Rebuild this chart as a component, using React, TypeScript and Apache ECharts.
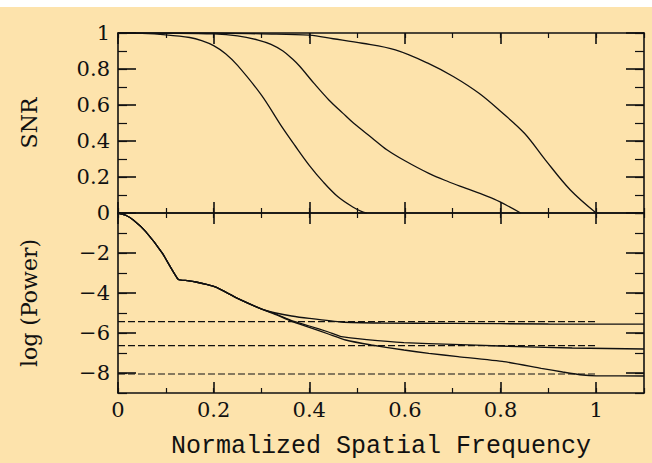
import React, { useEffect, useRef } from 'react';
import * as echarts from 'echarts';

// ---- Data ----
const X_TICKS_MAJOR = [0, 0.2, 0.4, 0.6, 0.8, 1];
const SNR_TICKS_MAJOR = [0, 0.2, 0.4, 0.6, 0.8, 1];
const POWER_TICKS_MAJOR = [-8, -6, -4, -2];

// SNR curves (top panel)
const snrAFreq = [0, 0.05, 0.1, 0.15, 0.175, 0.2, 0.225, 0.25, 0.3, 0.34, 0.37, 0.4, 0.43, 0.46, 0.49, 0.51, 0.52];
const snrAVal = [1, 0.998, 0.99, 0.975, 0.958, 0.93, 0.885, 0.82, 0.655, 0.49, 0.375, 0.265, 0.17, 0.09, 0.035, 0.008, 0];

const snrBFreq = [0, 0.1, 0.2, 0.25, 0.293, 0.32, 0.345, 0.365, 0.38, 0.41, 0.441, 0.47, 0.493, 0.53, 0.563, 0.6, 0.65, 0.69, 0.728, 0.77, 0.798, 0.842];
const snrBVal = [1, 0.999, 0.995, 0.984, 0.961, 0.937, 0.9, 0.855, 0.815, 0.72, 0.628, 0.555, 0.498, 0.42, 0.35, 0.29, 0.22, 0.175, 0.137, 0.095, 0.063, 0];

const snrCFreq = [0, 0.2, 0.3, 0.4, 0.45, 0.511, 0.58, 0.65, 0.702, 0.755, 0.8, 0.85, 0.894, 0.946, 1.0];
const snrCVal = [1, 1, 0.995, 0.988, 0.968, 0.943, 0.906, 0.83, 0.757, 0.665, 0.565, 0.443, 0.294, 0.128, 0];

// log(Power) curves (bottom panel)
const commonFreq = [0, 0.015, 0.032, 0.058, 0.093, 0.126, 0.145, 0.163, 0.185, 0.206, 0.25, 0.302];
const commonPow = [0, -0.1, -0.35, -0.93, -2.02, -3.32, -3.38, -3.45, -3.57, -3.72, -4.27, -4.82];

const upperFreq = [0.33, 0.363, 0.4, 0.467, 0.55, 0.7, 0.9, 1.1];
const upperPow = [-5.0, -5.15, -5.27, -5.45, -5.5, -5.52, -5.55, -5.56];

const middleFreq = [0.33, 0.363, 0.4, 0.44, 0.467, 0.52, 0.598, 0.7, 0.798, 0.95, 1.1];
const middlePow = [-5.05, -5.38, -5.65, -5.95, -6.18, -6.33, -6.48, -6.57, -6.65, -6.75, -6.8];

const lowerFreq = [0.33, 0.363, 0.4, 0.44, 0.476, 0.53, 0.598, 0.65, 0.711, 0.807, 0.885, 0.93, 0.972, 1.0, 1.1];
const lowerPow = [-5.08, -5.42, -5.72, -6.05, -6.35, -6.6, -6.85, -7.02, -7.18, -7.43, -7.77, -7.95, -8.1, -8.14, -8.15];

const noiseLevels = [-5.43, -6.63, -8.05];
const noiseFreqRange = [0, 1.0];

// ---- Styling ----
const INK = '#111';
const BG = '#FDE3AC';
const SERIF = '"DejaVu Serif", serif';

const pairs = (xs: number[], ys: number[]) => xs.map((x, i) => [x, ys[i]]);

function xAxis(grid: number, position: 'top' | 'bottom', major: boolean, extra: any = {}) {
  return {
    type: 'value',
    gridIndex: grid,
    position,
    min: 0,
    max: 1.1,
    interval: 0.1,
    axisLine: { show: !major, onZero: false, lineStyle: { color: INK, width: 1.6 } },
    axisTick: major
      ? { show: true, inside: true, length: 11, customValues: X_TICKS_MAJOR, lineStyle: { color: INK, width: 1.6 } }
      : { show: true, inside: true, length: 5, lineStyle: { color: INK, width: 1.2 } },
    axisLabel: { show: false },
    splitLine: { show: false },
    ...extra,
  };
}

function yAxis(grid: number, position: 'left' | 'right', major: boolean, min: number, max: number, interval: number, majors: number[], extra: any = {}) {
  return {
    type: 'value',
    gridIndex: grid,
    position,
    min,
    max,
    interval,
    axisLine: { show: !major, onZero: false, lineStyle: { color: INK, width: 1.6 } },
    axisTick: major
      ? { show: true, inside: true, length: 18, customValues: majors, lineStyle: { color: INK, width: 1.6 } }
      : { show: true, inside: true, length: 9, lineStyle: { color: INK, width: 1.2 } },
    axisLabel: { show: false },
    splitLine: { show: false },
    ...extra,
  };
}

const lineSeries = (xi: number, yi: number, data: number[][], smooth: number | boolean = 0.35) => ({
  type: 'line',
  xAxisIndex: xi,
  yAxisIndex: yi,
  data,
  showSymbol: false,
  smooth,
  lineStyle: { color: INK, width: 1.3 },
  silent: true,
});

export default function App() {
  const ref = useRef<HTMLDivElement>(null);
  useEffect(() => {
    const chart = echarts.init(ref.current!, null, { renderer: 'svg' });
    const yLabelStyle = { show: true, fontFamily: SERIF, fontSize: 21, color: INK, margin: 8 };
    const option: any = {
      animation: false,
      backgroundColor: BG,
      graphic: [
        { type: 'rect', left: 0, top: 0, shape: { x: 0, y: 0, width: 652, height: 7 }, style: { fill: '#ffffff' } },
      ],
      grid: [
        { left: 118, top: 33, width: 526, height: 180, containLabel: false },
        { left: 118, top: 213, width: 526, height: 180, containLabel: false },
      ],
      xAxis: [
        xAxis(0, 'top', false),
        xAxis(0, 'top', true),
        xAxis(0, 'bottom', false),
        xAxis(0, 'bottom', true),
        xAxis(1, 'top', false),
        xAxis(1, 'top', true),
        xAxis(1, 'bottom', false),
        xAxis(1, 'bottom', true, {
          axisLabel: { show: true, customValues: X_TICKS_MAJOR, fontFamily: SERIF, fontSize: 21, color: INK, margin: 6 },
          name: 'Normalized Spatial Frequency',
          nameLocation: 'middle',
          nameGap: 41,
          nameTextStyle: { fontFamily: '"Liberation Mono", monospace', fontSize: 25, color: INK },
        }),
      ],
      yAxis: [
        yAxis(0, 'left', false, 0, 1, 0.1, SNR_TICKS_MAJOR),
        yAxis(0, 'left', true, 0, 1, 0.1, SNR_TICKS_MAJOR, {
          axisLabel: { ...yLabelStyle, customValues: SNR_TICKS_MAJOR },
          name: 'SNR',
          nameLocation: 'middle',
          nameRotate: 90,
          nameGap: 78,
          nameTextStyle: { fontFamily: SERIF, fontSize: 22, color: INK },
        }),
        yAxis(0, 'right', false, 0, 1, 0.1, SNR_TICKS_MAJOR),
        yAxis(0, 'right', true, 0, 1, 0.1, SNR_TICKS_MAJOR),
        yAxis(1, 'left', false, -9, 0, 1, POWER_TICKS_MAJOR),
        yAxis(1, 'left', true, -9, 0, 1, POWER_TICKS_MAJOR, {
          axisLabel: {
            ...yLabelStyle,
            customValues: POWER_TICKS_MAJOR,
            formatter: (v: number) => (v < 0 ? '\u2212' + Math.abs(v) : String(v)),
          },
          name: 'log (Power)',
          nameLocation: 'middle',
          nameRotate: 90,
          nameGap: 78,
          nameTextStyle: { fontFamily: SERIF, fontSize: 22, color: INK },
        }),
        yAxis(1, 'right', false, -9, 0, 1, POWER_TICKS_MAJOR),
        yAxis(1, 'right', true, -9, 0, 1, POWER_TICKS_MAJOR),
      ],
      series: [
        lineSeries(0, 0, pairs(snrAFreq, snrAVal)),
        lineSeries(0, 0, pairs(snrBFreq, snrBVal)),
        lineSeries(0, 0, pairs(snrCFreq, snrCVal)),
        lineSeries(4, 4, pairs(commonFreq.concat(upperFreq), commonPow.concat(upperPow)), 0.15),
        lineSeries(4, 4, pairs(commonFreq.concat(middleFreq), commonPow.concat(middlePow)), 0.15),
        lineSeries(4, 4, pairs(commonFreq.concat(lowerFreq), commonPow.concat(lowerPow)), 0.15),
        ...noiseLevels.map((lvl) => ({
          type: 'line',
          xAxisIndex: 4,
          yAxisIndex: 4,
          data: noiseFreqRange.map((f) => [f, lvl]),
          showSymbol: false,
          silent: true,
          lineStyle: { color: INK, width: 1.1, type: [7, 3] },
        })),
      ],
    };
    chart.setOption(option);
    return () => chart.dispose();
  }, []);
  return <div ref={ref} style={{ position: 'fixed', left: 0, top: 0, width: 652, height: 463 }} />;
}
